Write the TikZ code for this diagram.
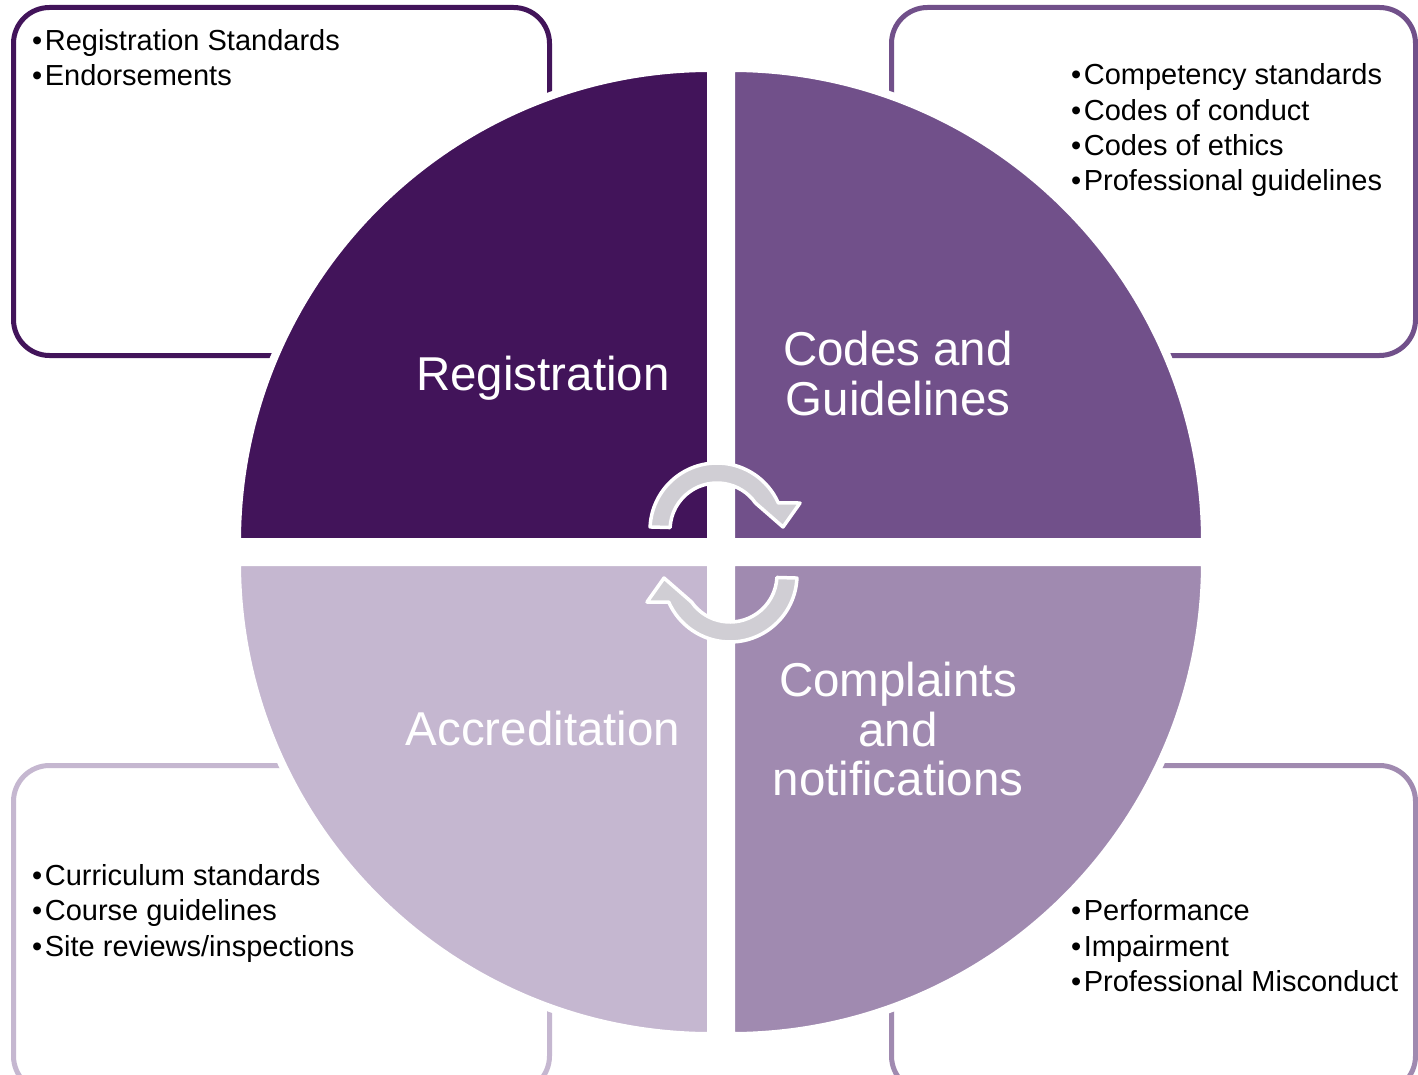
\documentclass[tikz,border=0pt]{standalone}
\usepackage{fontspec}
\setmainfont{Liberation Sans}
\definecolor{qTL}{HTML}{42145A}
\definecolor{qTR}{HTML}{71508A}
\definecolor{qBR}{HTML}{A08AB0}
\definecolor{qBL}{HTML}{C5B7D0}
\definecolor{arrowgray}{HTML}{D0CED4}
\newcommand{\bul}{•\kern2.5pt}
\begin{document}
\begin{tikzpicture}[x=1pt,y=-1pt,
  infobox/.style={line width=5pt, rounded corners=36pt, fill=white},
  quadrant/.style={draw=white, line width=8pt},
  listtext/.style={anchor=base west, inner sep=0pt, font=\fontsize{29}{35}\selectfont, text=black},
  titletext/.style={anchor=base, inner sep=0pt, font=\fontsize{47.5}{50}\selectfont, text=white},
  cycarrow/.style={fill=arrowgray, draw=white, line width=3.5pt, line join=round}
]
\useasboundingbox (0,0) rectangle (1418,1075);
\clip (0,0) rectangle (1418,1075);
\fill[white] (0,0) rectangle (1418,1075);

% outer boxes
\draw[infobox, draw=qTL] (13.5,7.5) rectangle (549.5,355.5);
\draw[infobox, draw=qTR] (891.5,7.5) rectangle (1415.5,355.5);
\draw[infobox, draw=qBL] (13.5,765.5) rectangle (549.5,1092);
\draw[infobox, draw=qBR] (891.5,765.5) rectangle (1415.5,1092);

% quadrants
\filldraw[quadrant, fill=qTL] (711,542) -- (237,542) arc[start angle=180, end angle=270, radius=474] -- cycle;
\filldraw[quadrant, fill=qTR] (731,542) -- (731,68) arc[start angle=270, end angle=360, radius=474] -- cycle;
\filldraw[quadrant, fill=qBR] (731,562) -- (1205,562) arc[start angle=0, end angle=90, radius=474] -- cycle;
\filldraw[quadrant, fill=qBL] (711,562) -- (711,1036) arc[start angle=90, end angle=180, radius=474] -- cycle;

% cycle arrows
\filldraw[cycarrow] ([shift={(717,530)}]-177.4:67) arc[start angle=-177.4, end angle=-23.8, radius=67]
  -- (800,503) -- (783,527) -- ([shift={(717,530)}]-35:47)
  arc[start angle=-35, end angle=-177, radius=47] -- cycle;
\begin{scope}[rotate around={180:(723.5,552.5)}]
\filldraw[cycarrow] ([shift={(717,530)}]-177.4:67) arc[start angle=-177.4, end angle=-23.8, radius=67]
  -- (800,503) -- (783,527) -- ([shift={(717,530)}]-35:47)
  arc[start angle=-35, end angle=-177, radius=47] -- cycle;
\end{scope}

% titles
\node[titletext] (reg) at (543,390) {Registration};
\node[titletext] (codes1) at (898,365) {Codes and};
\node[titletext] (codes2) at (898,415) {Guidelines};
\node[titletext] (accr) at (543,745) {Accreditation};
\node[titletext] (comp1) at (898,696) {Complaints};
\node[titletext] (comp2) at (898,746) {and};
\node[titletext] (comp3) at (898,795) {notifications};

% lists
\node[listtext] (tl1) at (32,51) {\bul Registration Standards};
\node[listtext] (tl2) at (32,86) {\bul Endorsements};
\node[listtext] (tr1) at (1071,85) {\bul Competency standards};
\node[listtext] (tr2) at (1071,120.5) {\bul Codes of conduct};
\node[listtext] (tr3) at (1071,156) {\bul Codes of ethics};
\node[listtext] (tr4) at (1071,191) {\bul Professional guidelines};
\node[listtext] (bl1) at (32,885) {\bul Curriculum standards};
\node[listtext] (bl2) at (32,920.5) {\bul Course guidelines};
\node[listtext] (bl3) at (32,956) {\bul Site reviews/inspections};
\node[listtext] (br1) at (1071,920.5) {\bul Performance};
\node[listtext] (br2) at (1071,956) {\bul Impairment};
\node[listtext] (br3) at (1071,991) {\bul Professional Misconduct};
\end{tikzpicture}
\end{document}
